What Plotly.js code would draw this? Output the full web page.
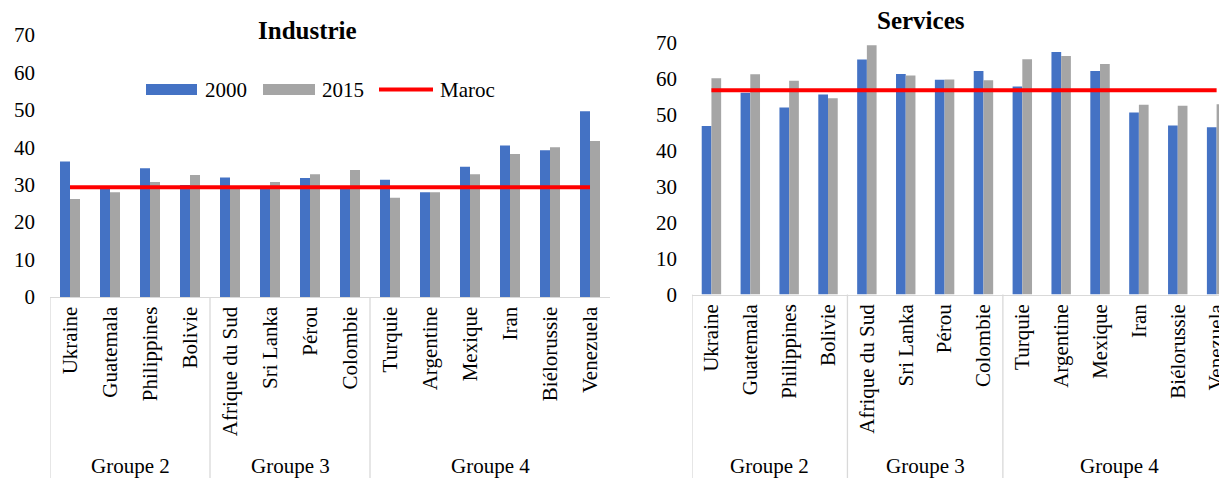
<!DOCTYPE html>
<html>
<head>
<meta charset="utf-8">
<script src="https://cdn.plot.ly/plotly-3.0.1.min.js"></script>
<style>
  html, body { margin: 0; padding: 0; background: #fff; overflow: hidden; }
  #chart { width: 1219px; height: 478px; }
</style>
</head>
<body>
<div id="chart"></div>
<script>
// ---------- data ----------
const countries = ['Ukraine', 'Guatemala', 'Philippines', 'Bolivie',
                   'Afrique du Sud', 'Sri Lanka', 'Pérou', 'Colombie',
                   'Turquie', 'Argentine', 'Mexique', 'Iran', 'Biélorussie', 'Venezuela'];
const groups = ['Groupe 2', 'Groupe 3', 'Groupe 4'];
const groupSizes = [4, 4, 6];

const industrie2000 = [36.2, 29.0, 34.4, 29.9, 31.9, 29.5, 31.8, 29.2, 31.3, 28.0, 34.8, 40.5, 39.2, 49.6];
const industrie2015 = [26.2, 28.0, 30.7, 32.6, 29.0, 30.7, 32.8, 33.9, 26.5, 28.0, 32.8, 38.2, 40.0, 41.7];
const services2000  = [46.8, 56.0, 51.9, 55.5, 65.2, 61.2, 59.6, 62.0, 57.7, 67.3, 62.0, 50.5, 46.9, 46.4];
const services2015  = [60.0, 61.1, 59.3, 54.5, 69.2, 60.8, 59.7, 59.5, 65.3, 66.2, 64.0, 52.7, 52.4, 52.8];
const marocIndustrie = 29.3;
const marocServices = 56.7;

const yTicks = [0, 10, 20, 30, 40, 50, 60, 70];
const seriesNames = ['2000', '2015', 'Maroc'];
const titles = ['Industrie', 'Services'];

// ---------- style ----------
const W = 1219, H = 478;
const FONT = 'Liberation Serif, Times New Roman, serif';
const BLUE = '#4472C4', GRAY = '#A5A5A5', RED = '#FF0000', LINEC = '#D9D9D9';
const px = v => v / W;
const py = v => (H - v) / H;

function barTrace(y, color, name, xa, ya) {
  return { type: 'bar', x: countries, y: y, name: name, xaxis: xa, yaxis: ya,
           marker: { color: color }, showlegend: false, hoverinfo: 'x+y' };
}
function lineTrace(v, xa, ya) {
  return { type: 'scatter', mode: 'lines', x: [countries[0], countries[countries.length - 1]],
           y: [v, v], name: seriesNames[2], xaxis: xa, yaxis: ya,
           line: { color: RED, width: 4 }, showlegend: false };
}

const data = [
  barTrace(industrie2000, BLUE, seriesNames[0], 'x', 'y'),
  barTrace(industrie2015, GRAY, seriesNames[1], 'x', 'y'),
  lineTrace(marocIndustrie, 'x', 'y'),
  barTrace(services2000, BLUE, seriesNames[0], 'x2', 'y2'),
  barTrace(services2015, GRAY, seriesNames[1], 'x2', 'y2'),
  lineTrace(marocServices, 'x2', 'y2')
];

const xBase = {
  type: 'category', showgrid: false, zeroline: false,
  showline: true, linecolor: LINEC, linewidth: 1.3,
  ticks: '', tickangle: -90, tickfont: { family: FONT, size: 21, color: '#000' },
  fixedrange: true
};
const yBase = {
  range: [0, 70], tickvals: yTicks, showgrid: false, zeroline: false, showline: false,
  ticks: '', ticklabelstandoff: 14, tickfont: { family: FONT, size: 21, color: '#000' },
  fixedrange: true
};

// axes pixel geometry
const left = { x0: 50, x1: 610, yZero: 297, yTop: 35 };
const right = { x0: 692, x1: 1219, yZero: 294.5, yTop: 42.3 };
const catW2 = 38.86;

const layout = {
  width: W, height: H,
  margin: { l: 0, r: 0, t: 0, b: 0 },
  paper_bgcolor: '#fff', plot_bgcolor: 'rgba(0,0,0,0)',
  barmode: 'group', bargap: 0.5, bargroupgap: 0,
  showlegend: false,
  xaxis: Object.assign({}, xBase, { domain: [px(left.x0), px(left.x1)], anchor: 'y',
                                    range: [-0.5, countries.length - 0.5] }),
  yaxis: Object.assign({}, yBase, { domain: [py(left.yZero), py(left.yTop)], anchor: 'x' }),
  xaxis2: Object.assign({}, xBase, { domain: [px(right.x0), 1], anchor: 'y2',
                                     range: [-0.5, -0.5 + (right.x1 - right.x0) / catW2] }),
  yaxis2: Object.assign({}, yBase, { domain: [py(right.yZero), py(right.yTop)], anchor: 'x2' }),
  shapes: [],
  annotations: []
};

// group dividers and group labels
[['x', left], ['x2', right]].forEach(([xa, g]) => {
  let start = 0;
  groupSizes.forEach((n, i) => {
    layout.shapes.push({ type: 'line', xref: xa, yref: 'paper',
      x0: start - 0.5, x1: start - 0.5, y0: 0, y1: py(g.yZero),
      line: { color: LINEC, width: 1.3 } });
    layout.annotations.push({ xref: xa, yref: 'paper', x: start + (n - 1) / 2, y: py(466),
      text: groups[i], showarrow: false, xanchor: 'center', yanchor: 'middle',
      font: { family: FONT, size: 21, color: '#000' } });
    start += n;
  });
});

// titles
layout.annotations.push({ xref: 'paper', yref: 'paper', x: px(307), y: py(30), text: '<b>' + titles[0] + '</b>',
  showarrow: false, xanchor: 'center', yanchor: 'middle', font: { family: FONT, size: 25, color: '#000' } });
layout.annotations.push({ xref: 'paper', yref: 'paper', x: px(921), y: py(21), text: '<b>' + titles[1] + '</b>',
  showarrow: false, xanchor: 'center', yanchor: 'middle', font: { family: FONT, size: 25, color: '#000' } });

// custom legend (Industrie panel)
const legY = 89.5;
layout.shapes.push({ type: 'rect', xref: 'paper', yref: 'paper', x0: px(146), x1: px(197), y0: py(95), y1: py(84),
  fillcolor: BLUE, line: { width: 0 } });
layout.shapes.push({ type: 'rect', xref: 'paper', yref: 'paper', x0: px(263), x1: px(315), y0: py(95), y1: py(84),
  fillcolor: GRAY, line: { width: 0 } });
layout.shapes.push({ type: 'line', xref: 'paper', yref: 'paper', x0: px(379), x1: px(433), y0: py(legY), y1: py(legY),
  line: { color: RED, width: 4 } });
[[203, seriesNames[0]], [320, seriesNames[1]], [438, seriesNames[2]]].forEach(([x, t]) => {
  layout.annotations.push({ xref: 'paper', yref: 'paper', x: px(x), y: py(legY), text: t, showarrow: false,
    xanchor: 'left', yanchor: 'middle', font: { family: FONT, size: 21, color: '#000' } });
});

Plotly.newPlot('chart', data, layout, { displayModeBar: false, staticPlot: true });
</script>
</body>
</html>
